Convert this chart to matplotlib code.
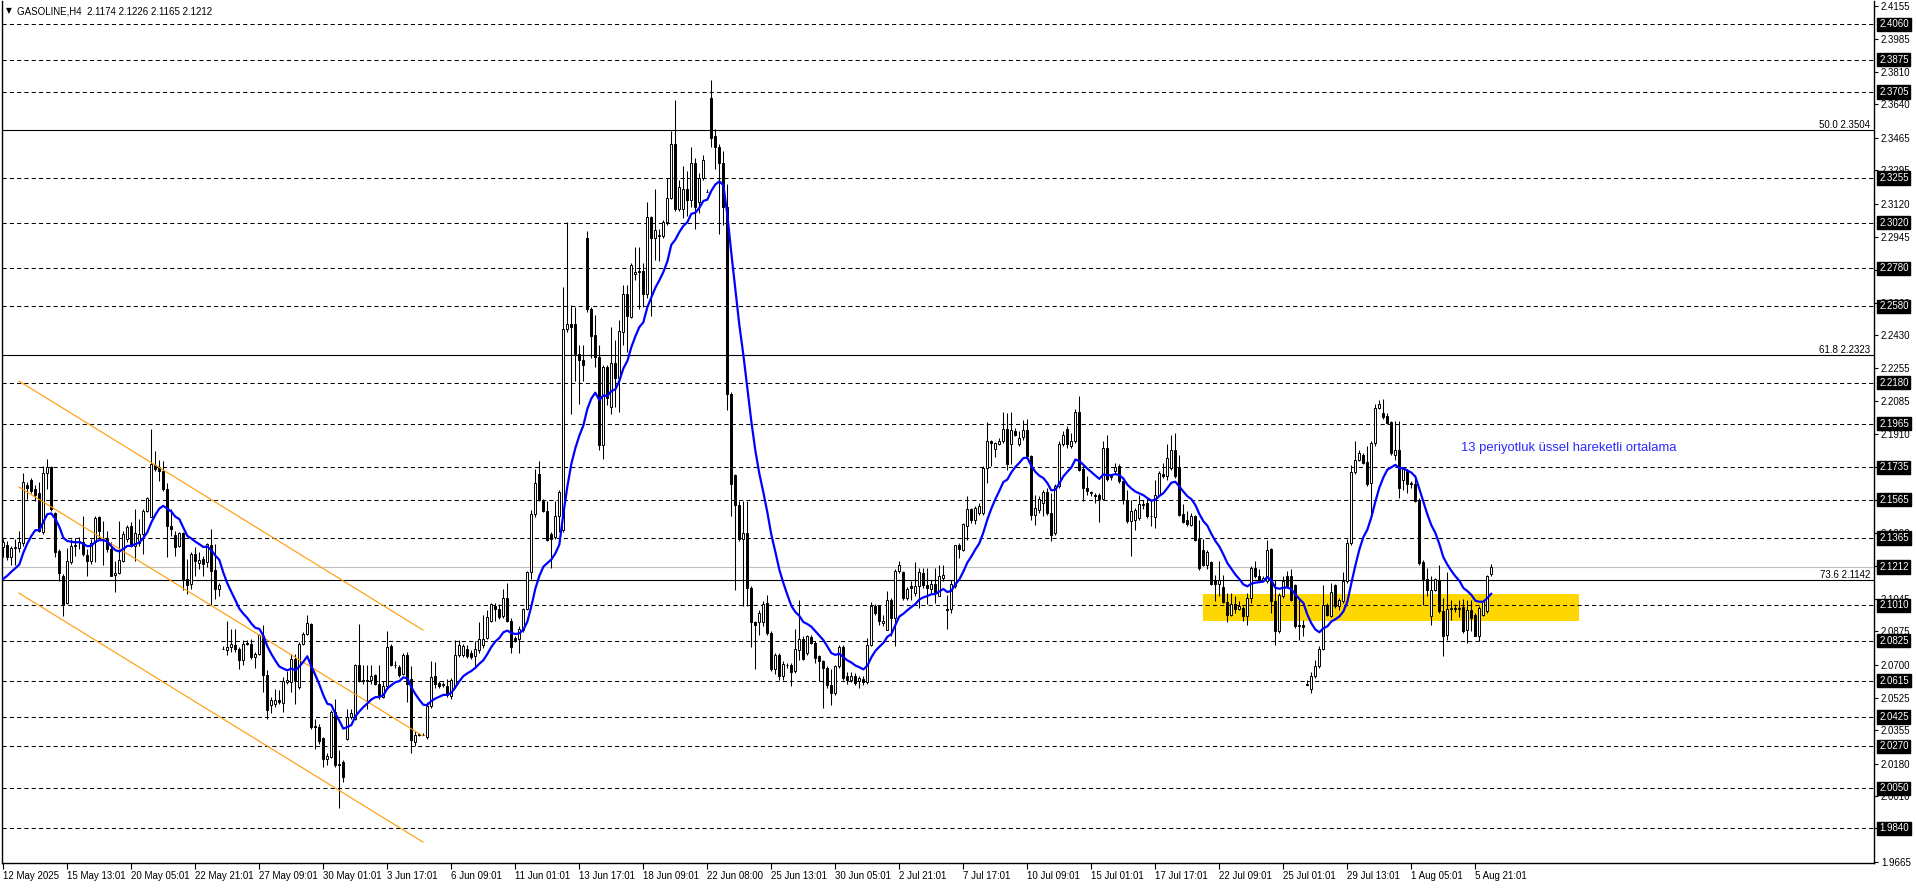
import numpy as np
import matplotlib
matplotlib.use('Agg')
import matplotlib.pyplot as plt
from matplotlib.patches import Rectangle

plt.rcParams['font.family'] = ['Liberation Sans', 'DejaVu Sans']

# H4 bars, 12 May 2025 -> 6 Aug 2025
opens = [
    2.1316, 2.1329, 2.1263, 2.1312, 2.1310, 2.1340, 2.1640, 2.1668, 2.1620, 2.1600,
    2.1398, 2.1705, 2.1738, 2.1494, 2.1298, 2.1167, 2.1022, 2.1237, 2.1329, 2.1345,
    2.1342, 2.1275, 2.1245, 2.1342, 2.1473, 2.1360, 2.1360, 2.1307, 2.1170, 2.1180,
    2.1246, 2.1360, 2.1425, 2.1324, 2.1338, 2.1385, 2.1508, 2.1473, 2.1749, 2.1735,
    2.1717, 2.1620, 2.1429, 2.1380, 2.1324, 2.1390, 2.1150, 2.1124, 2.1280, 2.1233,
    2.1254, 2.1237, 2.1328, 2.1198, 2.1094, 2.0782, 2.0774, 2.0792, 2.0804, 2.0783,
    2.0722, 2.0812, 2.0809, 2.0740, 2.0757, 2.0850, 2.0643, 2.0490, 2.0495, 2.0512,
    2.0500, 2.0608, 2.0608, 2.0730, 2.0582, 2.0809, 2.0862, 2.0912, 2.0378, 2.0373,
    2.0312, 2.0203, 2.0216, 2.0451, 2.0172, 2.0186, 2.0308, 2.0425, 2.0416, 2.0699,
    2.0617, 2.0617, 2.0617, 2.0643, 2.0600, 2.0529, 2.0587, 2.0798, 2.0697, 2.0688,
    2.0650, 2.0751, 2.0622, 2.0295, 2.0330, 2.0330, 2.0318, 2.0482, 2.0639, 2.0604,
    2.0590, 2.0587, 2.0534, 2.0587, 2.0751, 2.0751, 2.0782, 2.0763, 2.0744, 2.0775,
    2.0805, 2.0838, 2.0931, 2.1009, 2.0992, 2.0955, 2.1048, 2.0931, 2.0838, 2.0833,
    2.0880, 2.0992, 2.1184, 2.1488, 2.1699, 2.1558, 2.1505, 2.1383, 2.1371, 2.1477,
    2.1406, 2.2459, 2.2490, 2.2490, 2.2331, 2.2296, 2.2939, 2.2565, 2.2429, 2.2312,
    2.1851, 2.2260, 2.2050, 2.2284, 2.2202, 2.2448, 2.2647, 2.2522, 2.2752, 2.2761,
    2.2764, 2.2647, 2.3049, 2.2939, 2.2950, 2.2952, 2.3021, 2.3150, 2.3430, 2.3091,
    2.3091, 2.3196, 2.3138, 2.3332, 2.3126, 2.3255, 2.3182, 2.3676, 2.3473, 2.3419,
    2.3332, 2.3103, 2.2120, 2.1694, 2.1535, 2.1360, 2.1390, 2.1102, 2.0922, 2.0922,
    2.0922, 2.1024, 2.0866, 2.0674, 2.0752, 2.0642, 2.0700, 2.0696, 2.0665, 2.0775,
    2.0835, 2.0761, 2.0845, 2.0814, 2.0744, 2.0717, 2.0682, 2.0595, 2.0551, 2.0694,
    2.0793, 2.0640, 2.0621, 2.0642, 2.0612, 2.0626, 2.0607, 2.0805, 2.1006, 2.1006,
    2.0920, 2.0883, 2.1041, 2.0945, 2.1190, 2.1185, 2.1050, 2.1111, 2.1076, 2.1111,
    2.1181, 2.1115, 2.1094, 2.1125, 2.1062, 2.1155, 2.0989, 2.0989, 2.1111, 2.1325,
    2.1300, 2.1426, 2.1517, 2.1461, 2.1496, 2.1496, 2.1732, 2.1872, 2.1829, 2.1860,
    2.1872, 2.1937, 2.1855, 2.1928, 2.1860, 2.1895, 2.1933, 2.1797, 2.1487, 2.1513,
    2.1548, 2.1604, 2.1496, 2.1391, 2.1636, 2.1855, 2.1937, 2.1846, 2.1872, 2.2025,
    2.1727, 2.1627, 2.1605, 2.1592, 2.1592, 2.1570, 2.1837, 2.1683, 2.1715, 2.1744,
    2.1662, 2.1566, 2.1452, 2.1461, 2.1470, 2.1540, 2.1548, 2.1478, 2.1475, 2.1592,
    2.1701, 2.1688, 2.1732, 2.1825, 2.1737, 2.1492, 2.1461, 2.1430, 2.1478, 2.1360,
    2.1300, 2.1225, 2.1237, 2.1142, 2.1125, 2.1107, 2.1027, 2.0962, 2.1020, 2.0992,
    2.0997, 2.0953, 2.1050, 2.1207, 2.1164, 2.1146, 2.1137, 2.1304, 2.1032, 2.0875,
    2.1058, 2.1164, 2.1167, 2.1115, 2.0910, 2.0905, 2.0597, 2.0569, 2.0642, 2.0691,
    2.0782, 2.1015, 2.0957, 2.1120, 2.1006, 2.1032, 2.1137, 2.1339, 2.1710, 2.1776,
    2.1802, 2.1762, 2.1653, 2.1864, 2.2047, 2.2021, 2.2003, 2.1972, 2.1802, 2.1825,
    2.1671, 2.1715, 2.1653, 2.1645, 2.1557, 2.1237, 2.1150, 2.0953, 2.1090, 2.1146,
    2.0980, 2.0857, 2.0992, 2.0997, 2.0992, 2.1002, 2.0880, 2.0988, 2.0962, 2.0852,
    2.0962, 2.0980, 2.1174,
]
highs = [
    2.1360, 2.1350, 2.1324, 2.1360, 2.1403, 2.1705, 2.1656, 2.1677, 2.1640, 2.1656,
    2.1743, 2.1778, 2.1743, 2.1500, 2.1307, 2.1176, 2.1312, 2.1359, 2.1363, 2.1368,
    2.1481, 2.1307, 2.1360, 2.1481, 2.1481, 2.1455, 2.1403, 2.1342, 2.1246, 2.1455,
    2.1403, 2.1430, 2.1446, 2.1516, 2.1464, 2.1516, 2.1578, 2.1935, 2.1822, 2.1773,
    2.1770, 2.1652, 2.1516, 2.1403, 2.1394, 2.1394, 2.1254, 2.1290, 2.1315, 2.1290,
    2.1272, 2.1338, 2.1411, 2.1333, 2.1129, 2.0797, 2.0931, 2.0888, 2.0888, 2.0792,
    2.0827, 2.0827, 2.0835, 2.0765, 2.0862, 2.0905, 2.0669, 2.0530, 2.0573, 2.0565,
    2.0635, 2.0664, 2.0757, 2.0757, 2.0818, 2.0870, 2.0961, 2.0919, 2.0416, 2.0390,
    2.0320, 2.0238, 2.0460, 2.0521, 2.0250, 2.0198, 2.0469, 2.0469, 2.0704, 2.0914,
    2.0696, 2.0696, 2.0696, 2.0652, 2.0696, 2.0611, 2.0875, 2.0810, 2.0720, 2.0700,
    2.0763, 2.0767, 2.0693, 2.0353, 2.0340, 2.0340, 2.0505, 2.0716, 2.0711, 2.0615,
    2.0610, 2.0622, 2.0627, 2.0828, 2.0828, 2.0810, 2.0800, 2.0775, 2.0821, 2.0922,
    2.0962, 2.0985, 2.1025, 2.1025, 2.1016, 2.1095, 2.1126, 2.0945, 2.0850, 2.0903,
    2.0997, 2.1189, 2.1512, 2.1727, 2.1769, 2.1570, 2.1558, 2.1395, 2.1558, 2.1617,
    2.2682, 2.3021, 2.2588, 2.2576, 2.2377, 2.2377, 2.2974, 2.2576, 2.2537, 2.2377,
    2.2272, 2.2272, 2.2471, 2.2401, 2.2506, 2.2693, 2.2693, 2.2810, 2.2892, 2.2892,
    2.2810, 2.3126, 2.3056, 2.3196, 2.2986, 2.3033, 2.3255, 2.3501, 2.3664, 2.3243,
    2.3318, 2.3290, 2.3419, 2.3360, 2.3278, 2.3372, 2.3195, 2.3770, 2.3512, 2.3430,
    2.3395, 2.3220, 2.2132, 2.1699, 2.1558, 2.1558, 2.1558, 2.1114, 2.0930, 2.0985,
    2.1032, 2.1067, 2.0875, 2.0760, 2.0761, 2.0717, 2.0709, 2.0709, 2.0884, 2.1038,
    2.0849, 2.0857, 2.0857, 2.0822, 2.0752, 2.0726, 2.0691, 2.0674, 2.0700, 2.0800,
    2.0800, 2.0660, 2.0660, 2.0655, 2.0640, 2.0640, 2.0840, 2.1027, 2.1020, 2.1015,
    2.0962, 2.1085, 2.1050, 2.1202, 2.1242, 2.1190, 2.1105, 2.1137, 2.1237, 2.1207,
    2.1207, 2.1207, 2.1146, 2.1207, 2.1225, 2.1225, 2.1067, 2.1146, 2.1330, 2.1339,
    2.1443, 2.1583, 2.1522, 2.1530, 2.1548, 2.1741, 2.1972, 2.1881, 2.1870, 2.1890,
    2.2025, 2.2020, 2.2025, 2.1940, 2.1925, 2.1986, 2.1990, 2.1802, 2.1592, 2.1583,
    2.1618, 2.1627, 2.1600, 2.1645, 2.1872, 2.1925, 2.1951, 2.1916, 2.2042, 2.2112,
    2.1740, 2.1688, 2.1610, 2.1600, 2.1600, 2.1872, 2.1907, 2.1700, 2.1758, 2.1750,
    2.1670, 2.1618, 2.1562, 2.1520, 2.1592, 2.1566, 2.1575, 2.1566, 2.1671, 2.1714,
    2.1758, 2.1855, 2.1907, 2.1916, 2.1802, 2.1540, 2.1505, 2.1496, 2.1487, 2.1461,
    2.1360, 2.1300, 2.1245, 2.1172, 2.1242, 2.1172, 2.1076, 2.1076, 2.1058, 2.1032,
    2.1006, 2.1076, 2.1216, 2.1242, 2.1199, 2.1164, 2.1356, 2.1312, 2.1146, 2.1076,
    2.1164, 2.1190, 2.1199, 2.1125, 2.1041, 2.0936, 2.0620, 2.0660, 2.0726, 2.0796,
    2.1120, 2.1024, 2.1128, 2.1125, 2.1050, 2.1185, 2.1360, 2.1745, 2.1872, 2.1825,
    2.1811, 2.1846, 2.1872, 2.2070, 2.2091, 2.2095, 2.2020, 2.1977, 2.1977, 2.1977,
    2.1737, 2.1727, 2.1662, 2.1697, 2.1575, 2.1250, 2.1207, 2.1164, 2.1155, 2.1225,
    2.1050, 2.1185, 2.1041, 2.1020, 2.1038, 2.1045, 2.1038, 2.1041, 2.0971, 2.1006,
    2.1041, 2.1172, 2.1226,
]
lows = [
    2.1263, 2.1250, 2.1220, 2.1220, 2.1290, 2.1324, 2.1570, 2.1600, 2.1560, 2.1394,
    2.1385, 2.1620, 2.1508, 2.1263, 2.1140, 2.0957, 2.1019, 2.1228, 2.1272, 2.1307,
    2.1272, 2.1167, 2.1228, 2.1237, 2.1360, 2.1220, 2.1290, 2.1167, 2.1080, 2.1176,
    2.1237, 2.1342, 2.1315, 2.1246, 2.1324, 2.1280, 2.1500, 2.1473, 2.1717, 2.1665,
    2.1612, 2.1263, 2.1377, 2.1272, 2.1315, 2.1089, 2.1071, 2.1097, 2.1167, 2.1202,
    2.1167, 2.1211, 2.1010, 2.1045, 2.1062, 2.0780, 2.0748, 2.0765, 2.0765, 2.0678,
    2.0696, 2.0800, 2.0731, 2.0682, 2.0748, 2.0556, 2.0416, 2.0443, 2.0477, 2.0495,
    2.0451, 2.0600, 2.0556, 2.0495, 2.0573, 2.0800, 2.0855, 2.0364, 2.0259, 2.0285,
    2.0163, 2.0172, 2.0207, 2.0163, 1.9945, 2.0084, 2.0304, 2.0416, 2.0408, 2.0608,
    2.0600, 2.0469, 2.0600, 2.0591, 2.0521, 2.0524, 2.0576, 2.0693, 2.0680, 2.0634,
    2.0646, 2.0505, 2.0236, 2.0271, 2.0325, 2.0330, 2.0307, 2.0470, 2.0576, 2.0576,
    2.0580, 2.0529, 2.0517, 2.0576, 2.0739, 2.0740, 2.0735, 2.0730, 2.0681, 2.0758,
    2.0786, 2.0833, 2.0922, 2.0927, 2.0938, 2.0945, 2.0922, 2.0763, 2.0820, 2.0763,
    2.0870, 2.0985, 2.1149, 2.1476, 2.1558, 2.1500, 2.1348, 2.1207, 2.1360, 2.1395,
    2.1395, 2.2448, 2.2015, 2.2190, 2.2069, 2.2190, 2.2553, 2.2307, 2.2260, 2.1828,
    2.1781, 2.2062, 2.2015, 2.2050, 2.2026, 2.2377, 2.2342, 2.2518, 2.2717, 2.2565,
    2.2576, 2.2623, 2.2530, 2.2822, 2.2817, 2.2940, 2.3009, 2.3143, 2.3079, 2.3079,
    2.3044, 2.3056, 2.3103, 2.2986, 2.3068, 2.3243, 2.3180, 2.3419, 2.3302, 2.2962,
    2.3009, 2.2038, 2.1477, 2.1090, 2.1348, 2.1009, 2.1009, 2.0791, 2.0674, 2.0856,
    2.0901, 2.0857, 2.0665, 2.0650, 2.0621, 2.0621, 2.0682, 2.0586, 2.0656, 2.0726,
    2.0726, 2.0752, 2.0810, 2.0709, 2.0612, 2.0472, 2.0577, 2.0490, 2.0542, 2.0680,
    2.0621, 2.0600, 2.0610, 2.0590, 2.0577, 2.0590, 2.0600, 2.0796, 2.0960, 2.0910,
    2.0901, 2.0883, 2.0849, 2.0796, 2.1181, 2.1041, 2.1041, 2.1041, 2.1058, 2.0997,
    2.1102, 2.1020, 2.1076, 2.1024, 2.1058, 2.1137, 2.0887, 2.0971, 2.1102, 2.1260,
    2.1295, 2.1356, 2.1443, 2.1435, 2.1487, 2.1487, 2.1653, 2.1741, 2.1790, 2.1850,
    2.1864, 2.1720, 2.1750, 2.1900, 2.1846, 2.1881, 2.1786, 2.1461, 2.1430, 2.1496,
    2.1478, 2.1487, 2.1347, 2.1382, 2.1627, 2.1846, 2.1837, 2.1837, 2.1864, 2.1714,
    2.1557, 2.1592, 2.1583, 2.1548, 2.1447, 2.1565, 2.1662, 2.1670, 2.1705, 2.1653,
    2.1540, 2.1443, 2.1269, 2.1408, 2.1461, 2.1514, 2.1470, 2.1426, 2.1417, 2.1583,
    2.1680, 2.1671, 2.1723, 2.1680, 2.1478, 2.1443, 2.1426, 2.1426, 2.1347, 2.1198,
    2.1216, 2.1199, 2.1120, 2.1032, 2.1058, 2.1024, 2.0922, 2.0953, 2.0971, 2.0985,
    2.0927, 2.0910, 2.1024, 2.1155, 2.1137, 2.1137, 2.1128, 2.0971, 2.0805, 2.0866,
    2.1050, 2.1102, 2.1032, 2.0892, 2.0831, 2.0849, 2.0595, 2.0551, 2.0630, 2.0682,
    2.0775, 2.0953, 2.0950, 2.0997, 2.0988, 2.1024, 2.1128, 2.1330, 2.1698, 2.1769,
    2.1750, 2.1636, 2.1496, 2.1846, 2.2042, 2.1990, 2.1960, 2.1802, 2.1776, 2.1575,
    2.1618, 2.1601, 2.1627, 2.1552, 2.1225, 2.1015, 2.1058, 2.0905, 2.1085, 2.0971,
    2.0744, 2.0831, 2.0932, 2.0975, 2.0950, 2.0866, 2.0814, 2.0875, 2.0849, 2.0822,
    2.0953, 2.0971, 2.1165,
]
closes = [
    2.1342, 2.1263, 2.1312, 2.1315, 2.1342, 2.1656, 2.1625, 2.1612, 2.1590, 2.1403,
    2.1705, 2.1738, 2.1516, 2.1293, 2.1179, 2.1019, 2.1242, 2.1324, 2.1320, 2.1350,
    2.1280, 2.1245, 2.1338, 2.1469, 2.1403, 2.1352, 2.1307, 2.1167, 2.1180, 2.1251,
    2.1385, 2.1420, 2.1324, 2.1389, 2.1385, 2.1508, 2.1576, 2.1752, 2.1726, 2.1717,
    2.1620, 2.1429, 2.1411, 2.1315, 2.1389, 2.1150, 2.1115, 2.1280, 2.1246, 2.1251,
    2.1228, 2.1331, 2.1193, 2.1097, 2.1115, 2.0780, 2.0792, 2.0809, 2.0783, 2.0722,
    2.0809, 2.0809, 2.0740, 2.0757, 2.0853, 2.0643, 2.0460, 2.0512, 2.0512, 2.0503,
    2.0612, 2.0617, 2.0730, 2.0617, 2.0809, 2.0862, 2.0919, 2.0373, 2.0373, 2.0298,
    2.0203, 2.0221, 2.0451, 2.0172, 2.0180, 2.0110, 2.0425, 2.0443, 2.0699, 2.0612,
    2.0612, 2.0612, 2.0640, 2.0600, 2.0539, 2.0587, 2.0791, 2.0697, 2.0700, 2.0646,
    2.0751, 2.0599, 2.0302, 2.0330, 2.0333, 2.0330, 2.0482, 2.0634, 2.0599, 2.0587,
    2.0599, 2.0541, 2.0618, 2.0751, 2.0805, 2.0798, 2.0744, 2.0739, 2.0782, 2.0833,
    2.0833, 2.0950, 2.1016, 2.0992, 2.0950, 2.1048, 2.0931, 2.0791, 2.0828, 2.0884,
    2.0992, 2.1184, 2.1488, 2.1652, 2.1563, 2.1505, 2.1352, 2.1360, 2.1477, 2.1605,
    2.2459, 2.2490, 2.2471, 2.2331, 2.2296, 2.2272, 2.2565, 2.2424, 2.2312, 2.1851,
    2.2260, 2.2097, 2.2284, 2.2202, 2.2452, 2.2647, 2.2530, 2.2799, 2.2763, 2.2764,
    2.2647, 2.3049, 2.2939, 2.2979, 2.2952, 2.3021, 2.3150, 2.3430, 2.3091, 2.3208,
    2.3196, 2.3138, 2.3332, 2.3103, 2.3255, 2.3349, 2.3180, 2.3466, 2.3419, 2.3332,
    2.3103, 2.2120, 2.1647, 2.1535, 2.1360, 2.1390, 2.1102, 2.0922, 2.0908, 2.0973,
    2.1020, 2.0866, 2.0674, 2.0752, 2.0642, 2.0705, 2.0696, 2.0660, 2.0779, 2.0835,
    2.0730, 2.0849, 2.0814, 2.0735, 2.0717, 2.0682, 2.0595, 2.0551, 2.0694, 2.0793,
    2.0630, 2.0621, 2.0642, 2.0603, 2.0630, 2.0607, 2.0805, 2.1006, 2.0971, 2.0927,
    2.0930, 2.1041, 2.0945, 2.1190, 2.1225, 2.1050, 2.1097, 2.1102, 2.1111, 2.1185,
    2.1120, 2.1102, 2.1125, 2.1076, 2.1167, 2.1172, 2.0985, 2.1125, 2.1325, 2.1304,
    2.1435, 2.1517, 2.1461, 2.1522, 2.1531, 2.1732, 2.1872, 2.1864, 2.1864, 2.1872,
    2.1937, 2.1750, 2.1933, 2.1907, 2.1890, 2.1933, 2.1797, 2.1487, 2.1522, 2.1571,
    2.1604, 2.1496, 2.1382, 2.1636, 2.1855, 2.1907, 2.1855, 2.1872, 2.2025, 2.1723,
    2.1627, 2.1610, 2.1600, 2.1583, 2.1570, 2.1837, 2.1674, 2.1688, 2.1737, 2.1662,
    2.1566, 2.1452, 2.1505, 2.1510, 2.1540, 2.1535, 2.1478, 2.1482, 2.1592, 2.1706,
    2.1688, 2.1785, 2.1825, 2.1688, 2.1487, 2.1447, 2.1435, 2.1478, 2.1352, 2.1207,
    2.1225, 2.1290, 2.1125, 2.1125, 2.1146, 2.1027, 2.0962, 2.1020, 2.0992, 2.1006,
    2.0953, 2.1050, 2.1207, 2.1164, 2.1146, 2.1155, 2.1300, 2.1032, 2.0875, 2.1067,
    2.1137, 2.1111, 2.1041, 2.0901, 2.0901, 2.0898, 2.0595, 2.0642, 2.0691, 2.0782,
    2.1015, 2.0962, 2.1080, 2.1006, 2.1041, 2.1137, 2.1339, 2.1710, 2.1776, 2.1808,
    2.1758, 2.1645, 2.1864, 2.2047, 2.2070, 2.2000, 2.1968, 2.1811, 2.1825, 2.1627,
    2.1727, 2.1645, 2.1645, 2.1557, 2.1233, 2.1150, 2.1090, 2.1090, 2.1150, 2.0980,
    2.0849, 2.0992, 2.0997, 2.0992, 2.0997, 2.0875, 2.0988, 2.0945, 2.0852, 2.0997,
    2.1032, 2.1164, 2.1212,
]

ema_period = 13
ema_start = 2.1150

date_labels = ['12 May 2025', '15 May 13:01', '20 May 05:01', '22 May 21:01', '27 May 09:01',
               '30 May 01:01', '3 Jun 17:01', '6 Jun 09:01', '11 Jun 01:01', '13 Jun 17:01',
               '18 Jun 09:01', '22 Jun 08:00', '25 Jun 13:01', '30 Jun 05:01', '2 Jul 21:01',
               '7 Jul 17:01', '10 Jul 09:01', '15 Jul 01:01', '17 Jul 17:01', '22 Jul 09:01',
               '25 Jul 01:01', '29 Jul 13:01', '1 Aug 05:01', '5 Aug 21:01']
bars_per_label = 16

price_ticks = [2.4155, 2.3985, 2.3810, 2.3640, 2.3465, 2.3295, 2.3120, 2.2945, 2.2770,
               2.2600, 2.2430, 2.2255, 2.2085, 2.1910, 2.1735, 2.1565, 2.1390, 2.1215,
               2.1045, 2.0875, 2.0700, 2.0525, 2.0355, 2.0180, 2.0010, 1.9840, 1.9665]

levels = [2.4060, 2.3875, 2.3705, 2.3255, 2.3020, 2.2780, 2.2580, 2.2180, 2.1965, 2.1735,
          2.1565, 2.1365, 2.1010, 2.0825, 2.0615, 2.0425, 2.0270, 2.0050, 1.9840]
fib_levels = [2.3504, 2.2323, 2.1142]
fib_names = ['50.0', '61.8', '73.6']

channel_x = [3.9, 104.9]
channel_upper = [2.2188, 2.0881]
channel_middle = [2.1632, 2.0325]
channel_lower = [2.1075, 1.9768]

zone_x = [299.9, 393.9]
zone_y = [2.0930, 2.1070]

note_text = '13 periyotluk üssel hareketli ortalama'
note_pos = (364.5, 2.1837)

W, H = 1916, 888
fig = plt.figure(figsize=(W / 100, H / 100), dpi=100)
fig.patch.set_facecolor('white')
ax = fig.add_axes([2.3 / W, (H - 863) / H, (1874 - 2.3) / W, 862 / H])
ax.set_xlim(-0.25, 467.65)
ax.set_ylim(1.96581, 2.41830)

x = np.arange(len(closes))
o = np.array(opens)
h = np.array(highs)
l = np.array(lows)
c = np.array(closes)

# background zone
ax.add_patch(Rectangle((zone_x[0], zone_y[0]), zone_x[1] - zone_x[0], zone_y[1] - zone_y[0],
                       facecolor='#FFD700', edgecolor='none', zorder=0.5))

# horizontal levels
for lv in levels:
    ax.axhline(lv, color='black', lw=0.75, ls=(0, (4, 3)), zorder=1)
for lv in fib_levels:
    ax.axhline(lv, color='black', lw=0.8, zorder=1)
ax.axhline(closes[-1], color='#C0C0C0', lw=0.8, zorder=1)

# candles
ax.vlines(x, l, h, color='black', lw=0.75, zorder=3)
up = c >= o
body_h = np.maximum(np.abs(c - o), 0.00025)
body_b = np.minimum(o, c)
ax.bar(x, body_h, bottom=body_b, width=0.55, color=np.where(up, 'white', 'black'),
       edgecolor='black', linewidth=0.7, zorder=4)

# 13 period EMA
alpha = 2 / (ema_period + 1)
ema = [ema_start]
for v in closes[1:]:
    ema.append(ema[-1] + alpha * (v - ema[-1]))
ax.plot(x, ema, color='#0000FF', lw=1.6, zorder=5, solid_capstyle='round')

# channel
for yy in (channel_upper, channel_middle, channel_lower):
    ax.plot(channel_x, yy, color='#FF9A00', lw=0.8, zorder=4.5)

ax.text(note_pos[0], note_pos[1], note_text, color='#2a2aff', fontsize=9.4,
        ha='left', va='center', zorder=6)

# fib labels
ytr = ax.get_yaxis_transform()
for name, lv in zip(fib_names, fib_levels):
    ax.text(0.9979, lv + 0.0004, f'{name} {lv:.4f}', transform=ytr, ha='right', va='bottom',
            fontsize=7, color='black', zorder=6)

# axes styling
for s in ['top']:
    ax.spines[s].set_visible(False)
for s in ['left', 'right', 'bottom']:
    ax.spines[s].set_linewidth(1.0)
ax.yaxis.tick_right()
ax.set_yticks(price_ticks)
ax.set_yticklabels([f'{t:.4f}' for t in price_ticks])
ax.tick_params(axis='y', direction='out', length=3, width=0.8, pad=2, labelsize=7)
ax.set_xticks(np.arange(len(date_labels)) * bars_per_label)
ax.set_xticklabels(date_labels, ha='left')
ax.tick_params(axis='x', direction='out', length=4, width=0.8, pad=2, labelsize=7)
ax.tick_params(axis='y', which='both', left=False)

# highlighted price boxes on the scale
for lv in levels + [closes[-1]]:
    ax.text(1.0028, lv, f'{lv:.4f}', transform=ytr, ha='left', va='center', color='white',
            fontsize=7, zorder=10, clip_on=False,
            bbox=dict(boxstyle='square,pad=0.18', fc='black', ec='black'))

# header
fig.text(5.5 / W, 1 - 11 / H, '▼', fontsize=5.5, family='DejaVu Sans', va='center', ha='left')
fig.text(17 / W, 1 - 11 / H,
         f'GASOLINE,H4  {opens[-1]:.4f} {highs[-1]:.4f} {lows[-1]:.4f} {closes[-1]:.4f}',
         fontsize=7, va='center', ha='left')

fig.savefig('out.png', dpi=100)
